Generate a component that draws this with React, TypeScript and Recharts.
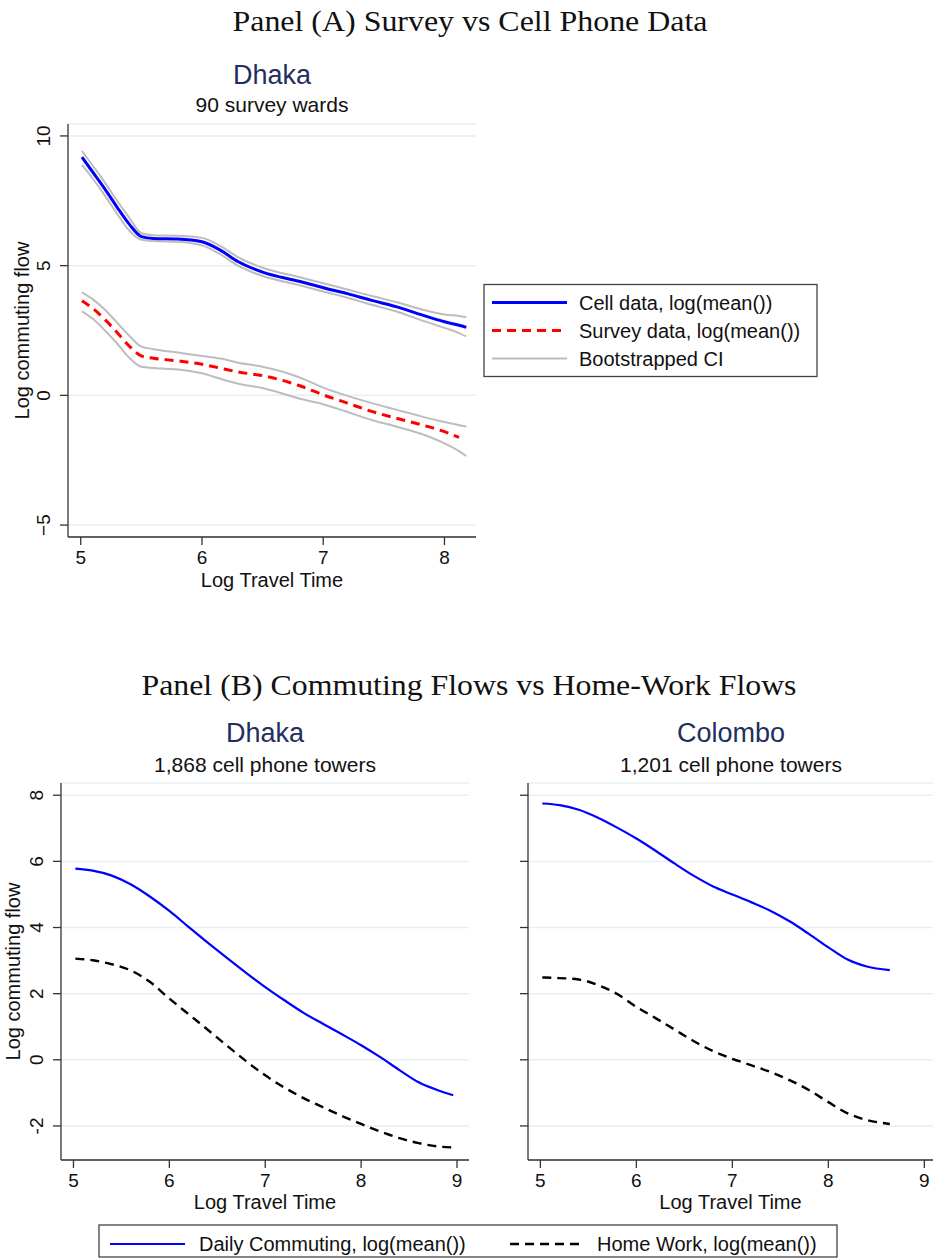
import React from "react";
import { LineChart, Line, XAxis, YAxis, CartesianGrid, Label } from "recharts";

const SANS = "'Liberation Sans', Arial, Helvetica, sans-serif";
const SERIF = "'Liberation Serif', 'Times New Roman', serif";
const NAVY = "#1f2f5e";
const AXIS = "#333333";
const GRID = "#e6eff1";
const CI = "#bdbdbd";

// Panel A: Dhaka, 90 survey wards
const travelA = [5.01, 5.1, 5.2, 5.3, 5.4, 5.5, 5.6, 5.8, 6.0, 6.15, 6.3, 6.5, 6.8, 7.0, 7.2, 7.4, 7.6, 7.8, 8.0, 8.12, 8.18];
const cellMean = [9.18, 8.6, 7.95, 7.25, 6.6, 6.12, 6.05, 6.03, 5.92, 5.6, 5.15, 4.75, 4.4, 4.15, 3.92, 3.66, 3.42, 3.12, 2.84, 2.7, 2.62];
const cellHi = [9.42, 8.85, 8.2, 7.5, 6.85, 6.25, 6.17, 6.15, 6.07, 5.76, 5.32, 4.92, 4.56, 4.32, 4.08, 3.83, 3.6, 3.33, 3.12, 3.06, 3.02];
const cellLo = [8.88, 8.35, 7.7, 7.0, 6.35, 6.0, 5.95, 5.92, 5.78, 5.44, 4.99, 4.6, 4.25, 4.0, 3.76, 3.49, 3.24, 2.91, 2.6, 2.4, 2.27];
const surveyMean = [3.65, 3.35, 2.92, 2.42, 1.9, 1.52, 1.43, 1.33, 1.2, 1.05, 0.9, 0.76, 0.38, 0.02, -0.3, -0.62, -0.88, -1.12, -1.4, -1.62, null];
const surveyHi = [3.97, 3.7, 3.3, 2.8, 2.3, 1.88, 1.78, 1.65, 1.52, 1.42, 1.26, 1.1, 0.7, 0.3, -0.02, -0.3, -0.55, -0.8, -1.03, -1.15, -1.2];
const surveyLo = [3.24, 2.95, 2.5, 2.0, 1.45, 1.1, 1.05, 1.0, 0.85, 0.64, 0.45, 0.28, -0.12, -0.34, -0.64, -0.95, -1.2, -1.47, -1.85, -2.15, -2.34];
const ticksAX = [5, 6, 7, 8];
const ticksAY = [-5, 0, 5, 10];

// Panel B: Dhaka, 1,868 towers
const travelDhaka = [5.02, 5.2, 5.4, 5.6, 5.8, 6.0, 6.2, 6.4, 6.6, 6.8, 7.0, 7.2, 7.4, 7.6, 7.8, 8.0, 8.2, 8.4, 8.6, 8.8, 8.96];
const commuteDhaka = [5.78, 5.72, 5.57, 5.3, 4.93, 4.5, 4.02, 3.54, 3.08, 2.63, 2.2, 1.8, 1.42, 1.09, 0.77, 0.44, 0.08, -0.31, -0.68, -0.92, -1.07];
const homeWorkDhaka = [3.06, 3.01, 2.89, 2.7, 2.35, 1.85, 1.38, 0.91, 0.43, -0.04, -0.47, -0.84, -1.16, -1.43, -1.7, -1.94, -2.17, -2.37, -2.52, -2.62, -2.65];

// Panel B: Colombo, 1,201 towers
const travelColombo = [5.02, 5.2, 5.4, 5.6, 5.8, 6.0, 6.2, 6.4, 6.6, 6.8, 7.0, 7.2, 7.4, 7.6, 7.8, 8.0, 8.2, 8.4, 8.64];
const commuteColombo = [7.75, 7.7, 7.56, 7.32, 7.02, 6.69, 6.32, 5.93, 5.56, 5.24, 5.0, 4.76, 4.5, 4.18, 3.8, 3.4, 3.03, 2.82, 2.71];
const homeWorkColombo = [2.49, 2.47, 2.43, 2.26, 1.99, 1.6, 1.26, 0.91, 0.56, 0.26, 0.03, -0.17, -0.37, -0.62, -0.92, -1.28, -1.62, -1.82, -1.94];
const ticksBX = [5, 6, 7, 8, 9];
const ticksBY = [-2, 0, 2, 4, 6, 8];

const dataA = travelA.map((t, i) => ({
  t,
  cell: cellMean[i],
  cellHi: cellHi[i],
  cellLo: cellLo[i],
  survey: surveyMean[i],
  surveyHi: surveyHi[i],
  surveyLo: surveyLo[i],
}));
const dataDhaka = travelDhaka.map((t, i) => ({ t, commute: commuteDhaka[i], home: homeWorkDhaka[i] }));
const dataColombo = travelColombo.map((t, i) => ({ t, commute: commuteColombo[i], home: homeWorkColombo[i] }));

const minus = (v: number) => (v < 0 ? `\u2212${-v}` : `${v}`);

const xTick = (fmt?: (v: number) => string) => (p: any) => (
  <text x={p.x} y={p.y + 16.5} textAnchor="middle" fontFamily={SANS} fontSize={19} fill="#111">
    {fmt ? fmt(p.payload.value) : p.payload.value}
  </text>
);

const yTick = (fmt?: (v: number) => string) => (p: any) => {
  const bx = p.x - 8;
  return (
    <text x={bx} y={p.y} transform={`rotate(-90 ${bx} ${p.y})`} textAnchor="middle" fontFamily={SANS} fontSize={19} fill="#111">
      {fmt ? fmt(p.payload.value) : p.payload.value}
    </text>
  );
};

const xTitle = (dy: number) => (p: any) => {
  const vb = p.viewBox;
  return (
    <text x={vb.x + vb.width / 2} y={vb.y + dy} textAnchor="middle" fontFamily={SANS} fontSize={20} fill="#111">
      Log Travel Time
    </text>
  );
};

const yTitle = (bx: number) => (p: any) => {
  const vb = p.viewBox;
  const cy = vb.y + vb.height / 2;
  return (
    <text x={bx} y={cy} transform={`rotate(-90 ${bx} ${cy})`} textAnchor="middle" fontFamily={SANS} fontSize={20} fill="#111">
      Log commuting flow
    </text>
  );
};

const axisProps = {
  axisLine: { stroke: AXIS, strokeWidth: 1.3 },
  tickLine: { stroke: AXIS, strokeWidth: 1.3 },
  tickSize: 8,
  tickMargin: 2,
  allowDataOverflow: true,
};

function PanelA() {
  return (
    <div style={{ position: "absolute", left: 0, top: 0 }}>
      <LineChart width={480} height={600} data={dataA} margin={{ top: 124, right: 4, bottom: 0, left: 0 }}>
        <CartesianGrid vertical={false} stroke={GRID} strokeWidth={1.5} />
        <XAxis dataKey="t" type="number" domain={[4.895, 8.26]} ticks={ticksAX} height={63} tick={xTick()} {...axisProps}>
          <Label content={xTitle(50)} />
        </XAxis>
        <YAxis type="number" domain={[-5.46, 10.46]} ticks={ticksAY} width={68} tick={yTick(minus)} {...axisProps}>
          <Label content={yTitle(29)} />
        </YAxis>
        <Line type="monotone" dataKey="cellHi" stroke={CI} strokeWidth={2} dot={false} activeDot={false} isAnimationActive={false} />
        <Line type="monotone" dataKey="cellLo" stroke={CI} strokeWidth={2} dot={false} activeDot={false} isAnimationActive={false} />
        <Line type="monotone" dataKey="surveyHi" stroke={CI} strokeWidth={2} dot={false} activeDot={false} isAnimationActive={false} />
        <Line type="monotone" dataKey="surveyLo" stroke={CI} strokeWidth={2} dot={false} activeDot={false} isAnimationActive={false} />
        <Line type="monotone" dataKey="cell" stroke="#0000ff" strokeWidth={3} dot={false} activeDot={false} isAnimationActive={false} />
        <Line type="monotone" dataKey="survey" stroke="#ff0000" strokeWidth={3} strokeDasharray="9 6" dot={false} activeDot={false} isAnimationActive={false} />
      </LineChart>
    </div>
  );
}

function PanelB({ data, left, width, domainX, showYLabels }: { data: any[]; left: number; width: number; domainX: [number, number]; showYLabels: boolean }) {
  return (
    <div style={{ position: "absolute", left, top: 700 }}>
      <LineChart width={width} height={520} data={data} margin={{ top: 83, right: showYLabels ? 3 : 1, bottom: 0, left: 0 }}>
        <CartesianGrid vertical={false} stroke={GRID} strokeWidth={1.5} />
        <XAxis dataKey="t" type="number" domain={domainX} ticks={ticksBX} height={60} tick={xTick()} {...axisProps}>
          <Label content={xTitle(49)} />
        </XAxis>
        <YAxis
          type="number"
          domain={[-3.03, 8.37]}
          ticks={ticksBY}
          width={showYLabels ? 61 : 58}
          tick={showYLabels ? yTick() : () => <g />}
          {...axisProps}
        >
          {showYLabels && <Label content={yTitle(20)} />}
        </YAxis>
        <Line type="monotone" dataKey="commute" stroke="#0000ff" strokeWidth={2.2} dot={false} activeDot={false} isAnimationActive={false} />
        <Line type="monotone" dataKey="home" stroke="#000000" strokeWidth={2.4} strokeDasharray="9 6" dot={false} activeDot={false} isAnimationActive={false} />
      </LineChart>
    </div>
  );
}

function Overlay() {
  const t = { fontFamily: SANS, fill: "#111" };
  return (
    <svg width={934} height={1259} style={{ position: "absolute", left: 0, top: 0, pointerEvents: "none" }}>
      <text x={470} y={31} textAnchor="middle" fontFamily={SERIF} fontSize={29} textLength={475} lengthAdjust="spacingAndGlyphs" fill="#111">
        Panel (A) Survey vs Cell Phone Data
      </text>
      <text x={272} y={84} textAnchor="middle" fontFamily={SANS} fontSize={27} fill={NAVY}>Dhaka</text>
      <text x={272} y={112} textAnchor="middle" fontSize={21} {...t}>90 survey wards</text>

      <rect x={484} y={284.5} width={333} height={92} fill="#fff" stroke="#444" strokeWidth={1.3} />
      <line x1={492} x2={567} y1={302.5} y2={302.5} stroke="#0000ff" strokeWidth={3} />
      <text x={579} y={309.5} fontSize={20} {...t}>Cell data, log(mean())</text>
      <line x1={492} x2={567} y1={330.5} y2={330.5} stroke="#ff0000" strokeWidth={3} strokeDasharray="9 6" />
      <text x={579} y={337.5} fontSize={20} {...t}>Survey data, log(mean())</text>
      <line x1={492} x2={567} y1={358.5} y2={358.5} stroke={CI} strokeWidth={2} />
      <text x={579} y={365.5} fontSize={20} {...t}>Bootstrapped CI</text>

      <text x={469} y={695} textAnchor="middle" fontFamily={SERIF} fontSize={29} textLength={655} lengthAdjust="spacingAndGlyphs" fill="#111">
        Panel (B) Commuting Flows vs Home-Work Flows
      </text>
      <text x={265} y={742} textAnchor="middle" fontFamily={SANS} fontSize={27} fill={NAVY}>Dhaka</text>
      <text x={265} y={772} textAnchor="middle" fontSize={21} {...t}>1,868 cell phone towers</text>
      <text x={731} y={742} textAnchor="middle" fontFamily={SANS} fontSize={27} fill={NAVY}>Colombo</text>
      <text x={731} y={772} textAnchor="middle" fontSize={21} {...t}>1,201 cell phone towers</text>

      <rect x={99} y={1225} width={738} height={32} fill="#fff" stroke="#444" strokeWidth={1.3} />
      <line x1={110} x2={185} y1={1244} y2={1244} stroke="#0000ff" strokeWidth={2.2} />
      <text x={199} y={1251} fontSize={20} {...t}>Daily Commuting, log(mean())</text>
      <line x1={510} x2={585} y1={1244} y2={1244} stroke="#000" strokeWidth={2.4} strokeDasharray="9 6" />
      <text x={597} y={1251} fontSize={20} {...t}>Home Work, log(mean())</text>
    </svg>
  );
}

export default function App() {
  return (
    <div style={{ position: "absolute", left: 0, top: 0, width: 934, height: 1259, background: "#fff", overflow: "hidden" }}>
      <PanelA />
      <PanelB data={dataDhaka} left={0} width={472} domainX={[4.87, 9.125]} showYLabels={true} />
      <PanelB data={dataColombo} left={470} width={464} domainX={[4.871, 9.09]} showYLabels={false} />
      <Overlay />
    </div>
  );
}
